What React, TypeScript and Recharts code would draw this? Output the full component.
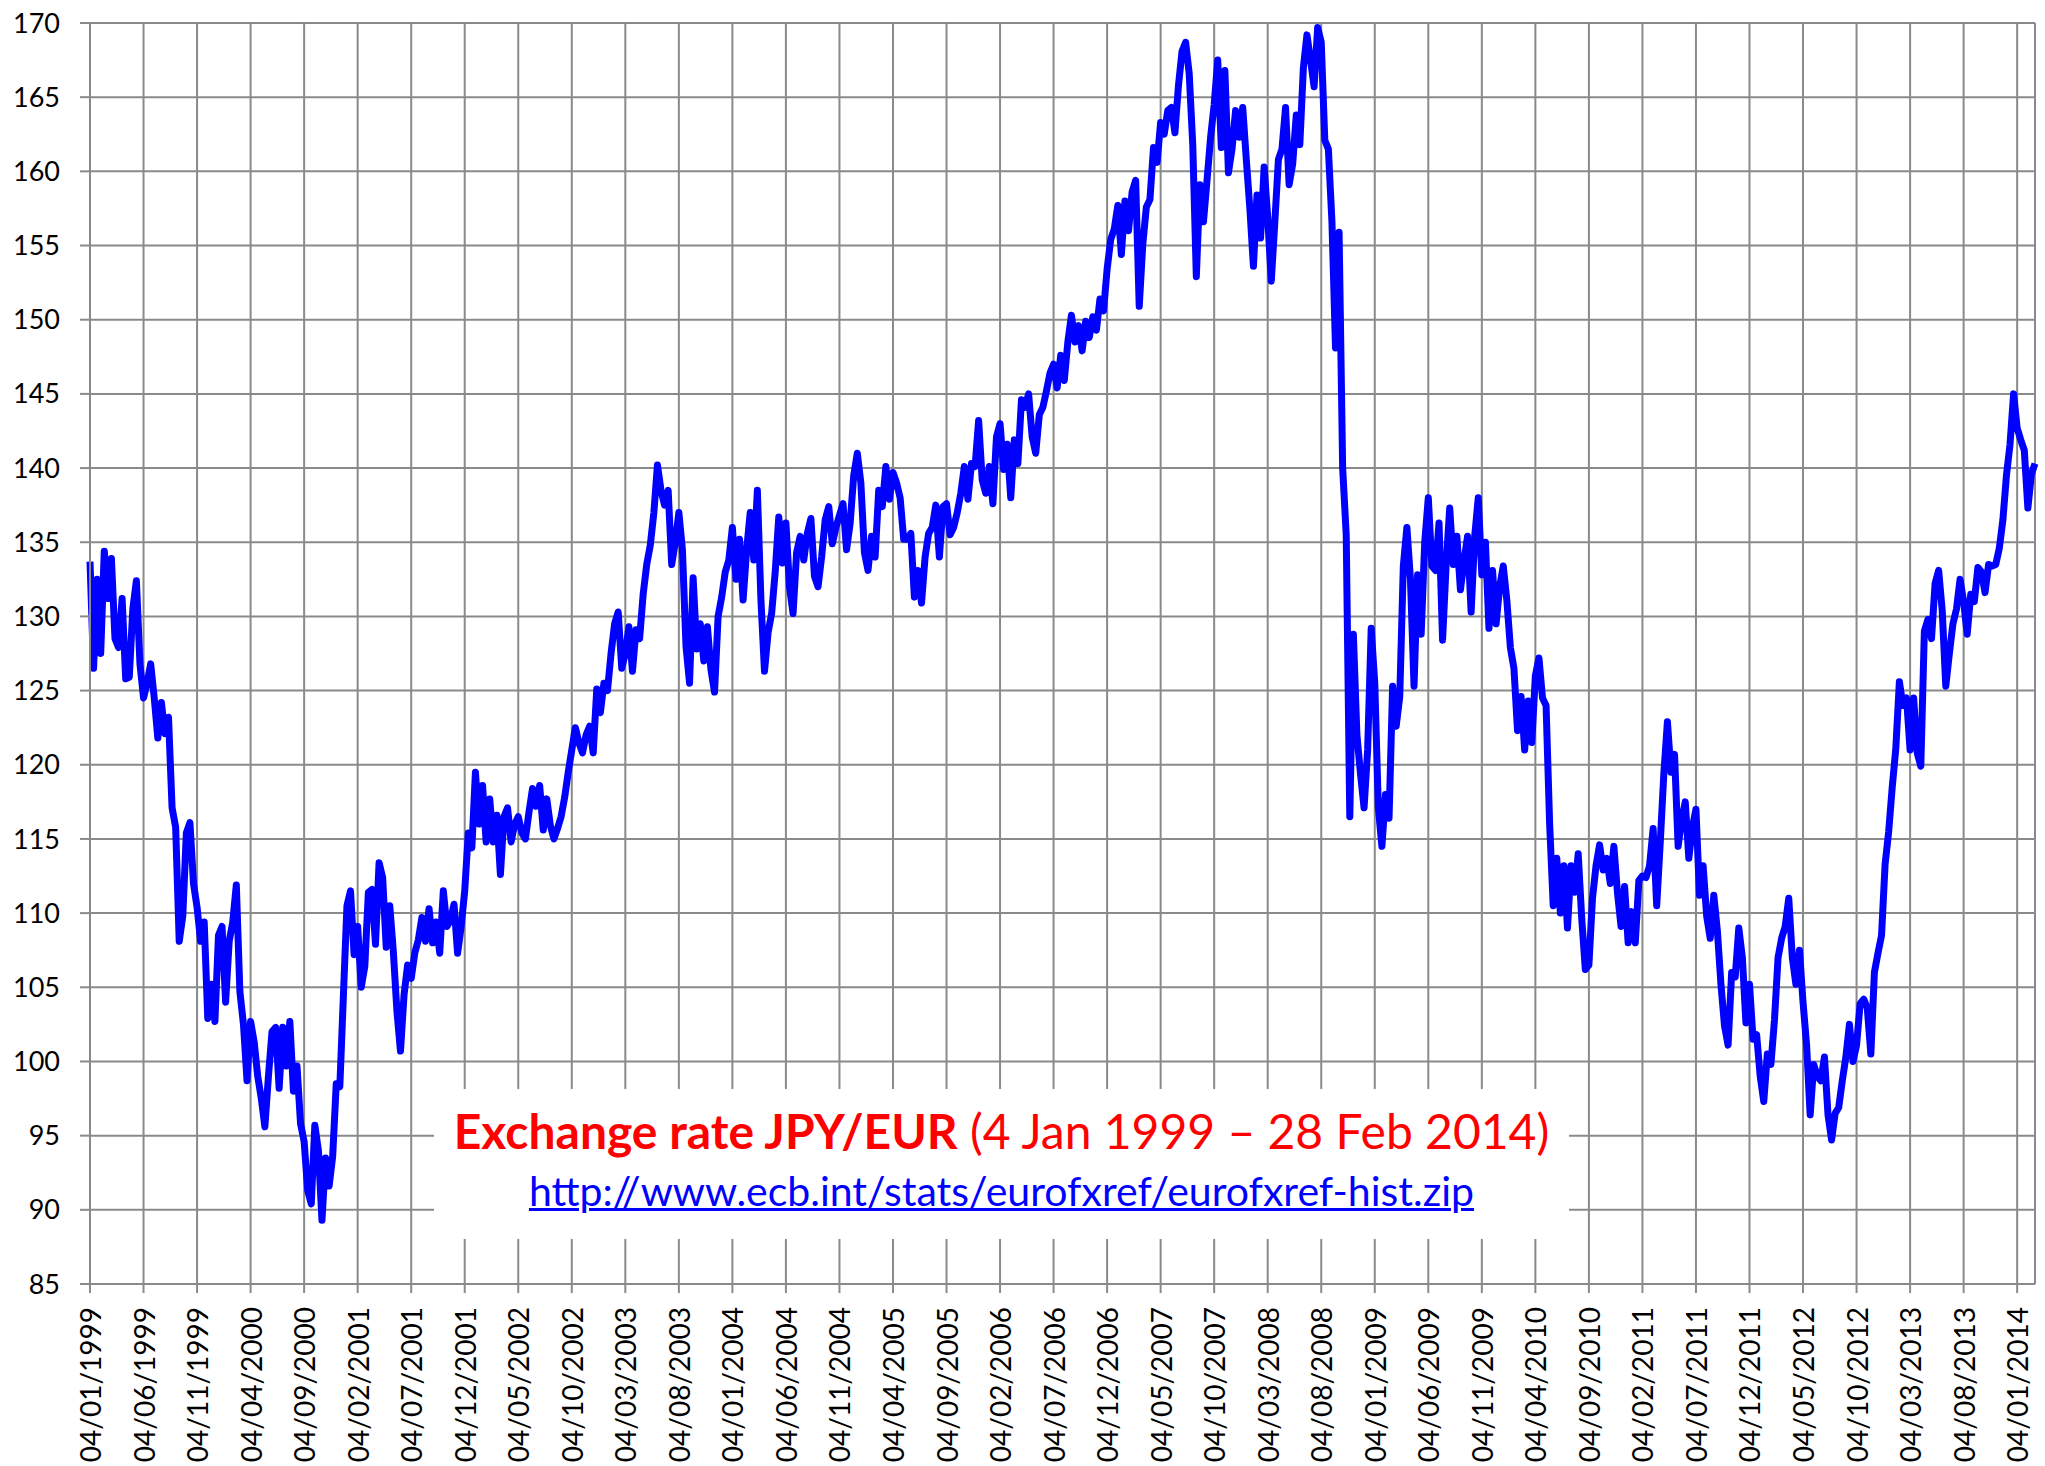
import React from 'react';
import { LineChart, Line, XAxis, YAxis, CartesianGrid, ReferenceLine } from 'recharts';

// JPY per EUR, one value every third of a month
const y1999 = [133.7, 126.5, 132.5, 127.5, 134.4, 131.2, 133.9, 128.5, 127.9, 131.2, 125.8, 125.9, 130.5, 132.4, 126.8, 124.5, 125.5, 126.8, 124.5, 121.8, 124.2, 122.1, 123.2, 117.1, 115.8, 108.1, 109.8, 115.4, 116.1, 112.0, 110.4, 108.1, 109.4, 102.9, 105.2, 102.7];
const y2000 = [108.5, 109.1, 104.0, 108.1, 109.4, 111.9, 104.7, 102.5, 98.7, 102.7, 101.3, 99.0, 97.5, 95.6, 99.0, 102.0, 102.3, 98.2, 102.3, 99.7, 102.7, 98.0, 99.7, 95.8, 94.6, 91.3, 90.4, 95.7, 94.0, 89.3, 93.5, 91.6, 93.6, 98.5, 98.3, 104.4];
const y2001 = [110.5, 111.5, 107.2, 109.1, 105.0, 106.4, 111.4, 111.6, 107.9, 113.4, 112.4, 107.7, 110.5, 107.4, 103.4, 100.7, 104.5, 106.5, 105.6, 107.3, 108.2, 109.7, 108.1, 110.3, 108.0, 109.4, 107.3, 111.5, 109.1, 109.5, 110.6, 107.3, 109.1, 111.5, 115.4, 114.4];
const y2002 = [119.5, 116.0, 118.6, 114.8, 117.7, 114.8, 116.6, 112.6, 116.5, 117.1, 114.8, 116.0, 116.5, 115.4, 115.0, 116.8, 118.4, 117.2, 118.6, 115.6, 117.7, 115.9, 115.0, 115.7, 116.5, 117.8, 119.5, 121.0, 122.5, 121.5, 120.8, 122.0, 122.6, 120.8, 125.1, 123.5];
const y2003 = [125.5, 125.0, 127.5, 129.5, 130.3, 126.5, 127.5, 129.3, 126.3, 129.1, 128.5, 131.5, 133.5, 134.8, 137.0, 140.2, 138.5, 137.5, 138.5, 133.5, 135.0, 137.0, 134.5, 128.0, 125.5, 132.6, 127.8, 129.5, 127.0, 129.3, 126.4, 124.9, 130.0, 131.3, 133.0, 133.8];
const y2004 = [136.0, 132.5, 135.2, 131.1, 134.5, 137.0, 133.8, 138.5, 131.1, 126.3, 128.9, 130.2, 133.0, 136.7, 133.6, 136.3, 132.0, 130.2, 134.3, 135.4, 133.8, 135.6, 136.6, 132.7, 132.0, 134.0, 136.5, 137.4, 134.9, 136.0, 136.8, 137.6, 134.5, 136.3, 139.5, 141.0];
const y2005 = [139.0, 134.3, 133.1, 135.4, 134.0, 138.5, 137.4, 140.1, 137.9, 139.7, 139.0, 138.0, 135.2, 135.2, 135.6, 131.3, 133.1, 130.9, 134.0, 135.6, 136.0, 137.5, 134.0, 137.4, 137.6, 135.5, 136.0, 137.0, 138.3, 140.1, 137.9, 140.3, 140.1, 143.2, 139.2, 138.3];
const y2006 = [140.1, 137.6, 142.1, 143.0, 139.9, 141.6, 138.0, 141.9, 140.3, 144.6, 144.1, 145.0, 142.1, 141.0, 143.6, 144.1, 145.2, 146.4, 147.0, 145.4, 147.6, 145.9, 148.5, 150.3, 148.5, 149.6, 147.9, 149.9, 148.8, 150.2, 149.3, 151.4, 150.6, 153.4, 155.4, 156.1];
const y2007 = [157.7, 154.4, 158.0, 156.0, 158.6, 159.4, 150.9, 155.1, 157.6, 158.1, 161.6, 160.6, 163.3, 162.5, 164.1, 164.3, 162.6, 165.8, 168.1, 168.7, 166.6, 161.8, 152.9, 159.1, 156.6, 159.4, 162.3, 164.5, 167.5, 161.6, 166.8, 159.9, 161.5, 164.1, 162.3, 164.3];
const y2008 = [160.8, 157.5, 153.6, 158.4, 155.5, 160.3, 156.9, 152.6, 156.6, 160.8, 161.5, 164.3, 159.1, 160.5, 163.8, 161.8, 167.0, 169.2, 167.5, 165.7, 169.7, 168.7, 162.1, 161.5, 156.6, 148.1, 155.9, 140.0, 135.5, 116.5, 128.8, 122.0, 119.4, 117.1, 121.0, 129.2];
const y2009 = [125.5, 117.1, 114.5, 118.0, 116.4, 125.3, 122.6, 124.6, 133.4, 136.0, 132.5, 125.3, 132.8, 128.8, 135.0, 138.0, 133.4, 133.1, 136.3, 128.4, 133.5, 137.3, 133.5, 135.4, 131.8, 133.7, 135.4, 130.3, 135.4, 138.0, 132.8, 135.0, 129.2, 133.1, 129.5, 132.0];
const y2010 = [133.4, 131.1, 127.9, 126.5, 122.3, 124.6, 121.0, 124.3, 121.5, 126.0, 127.2, 124.5, 124.0, 116.0, 110.5, 113.7, 110.0, 113.2, 109.0, 113.2, 111.4, 114.0, 109.6, 106.2, 106.5, 111.0, 113.2, 114.6, 112.9, 113.7, 112.0, 114.5, 111.4, 109.1, 111.8, 108.0];
const y2011 = [110.1, 108.0, 112.2, 112.5, 112.4, 113.2, 115.7, 110.5, 114.8, 119.4, 122.9, 119.5, 120.7, 114.5, 116.3, 117.5, 113.7, 115.8, 117.0, 111.2, 113.2, 109.8, 108.3, 111.2, 108.8, 105.2, 102.4, 101.1, 106.0, 105.7, 109.0, 107.0, 102.6, 105.2, 101.5, 101.8];
const y2012 = [99.0, 97.3, 100.5, 99.8, 102.8, 107.0, 108.3, 109.1, 111.0, 107.0, 105.2, 107.5, 104.0, 101.1, 96.4, 99.8, 99.0, 98.7, 100.3, 96.4, 94.7, 96.5, 96.9, 98.7, 100.3, 102.5, 100.0, 101.1, 103.9, 104.2, 103.6, 100.5, 106.0, 107.3, 108.5, 113.3];
const y2013 = [115.5, 118.5, 121.1, 125.6, 124.0, 124.5, 121.0, 124.5, 120.8, 119.9, 129.0, 129.8, 128.5, 132.2, 133.1, 130.4, 125.3, 127.5, 129.5, 130.5, 132.5, 131.0, 128.8, 131.5, 131.0, 133.3, 133.0, 131.6, 133.5, 133.4, 133.5, 134.6, 136.5, 139.5, 141.6, 145.0];
const y2014 = [142.7, 141.9, 141.2, 137.3, 139.6, 140.3];

const tickLabels = [
  '04/01/1999', '04/06/1999', '04/11/1999', '04/04/2000', '04/09/2000', '04/02/2001', '04/07/2001', '04/12/2001',
  '04/05/2002', '04/10/2002', '04/03/2003', '04/08/2003', '04/01/2004', '04/06/2004', '04/11/2004', '04/04/2005',
  '04/09/2005', '04/02/2006', '04/07/2006', '04/12/2006', '04/05/2007', '04/10/2007', '04/03/2008', '04/08/2008',
  '04/01/2009', '04/06/2009', '04/11/2009', '04/04/2010', '04/09/2010', '04/02/2011', '04/07/2011', '04/12/2011',
  '04/05/2012', '04/10/2012', '04/03/2013', '04/08/2013', '04/01/2014',
];
const rateTicks = [85, 90, 95, 100, 105, 110, 115, 120, 125, 130, 135, 140, 145, 150, 155, 160, 165, 170];

const years = [y1999, y2000, y2001, y2002, y2003, y2004, y2005, y2006, y2007, y2008, y2009, y2010, y2011, y2012, y2013, y2014];

// m = months since 4 Jan 1999
const data = years.flatMap((vals, k) => vals.map((rate, j) => ({ m: k * 12 + j / 3, rate })));
const lastMonth = data[data.length - 1].m;
const monthTicks = tickLabels.map((_, i) => i * 5);

const FONT = 'Lato, "Open Sans", sans-serif';
const GRID = '#8a8a8a';

const DateTick = (props: any) => {
  const { x, y, payload } = props;
  const ay = y + 14;
  return (
    <text
      x={x}
      y={ay}
      transform={`rotate(-90 ${x} ${ay})`}
      textAnchor="end"
      dominantBaseline="central"
      fontSize={28}
      fontFamily={FONT}
      fill="#000"
    >
      {tickLabels[monthTicks.indexOf(payload.value)]}
    </text>
  );
};

const App: React.FC = () => {
  return (
    <div style={{ position: 'absolute', left: 0, top: 0, width: 2045, height: 1466, background: '#fff', fontFamily: FONT }}>
      <LineChart width={2045} height={1466} data={data} margin={{ top: 23, right: 10, left: 0, bottom: 0 }}>
        <CartesianGrid stroke={GRID} strokeWidth={2} />
        <XAxis
          dataKey="m"
          type="number"
          domain={[0, lastMonth]}
          ticks={monthTicks}
          interval={0}
          height={182}
          tickSize={9}
          tickMargin={0}
          tick={<DateTick />}
          axisLine={{ stroke: GRID, strokeWidth: 2 }}
          tickLine={{ stroke: GRID, strokeWidth: 2 }}
        />
        <YAxis
          type="number"
          domain={[85, 170]}
          ticks={rateTicks}
          interval={0}
          width={90}
          tickSize={10}
          tickMargin={20}
          tick={{ fontSize: 27, fill: '#000', fontFamily: FONT }}
          axisLine={{ stroke: GRID, strokeWidth: 2 }}
          tickLine={{ stroke: GRID, strokeWidth: 2 }}
        />
        <ReferenceLine x={lastMonth} stroke={GRID} strokeWidth={2} />
        <Line
          type="linear"
          dataKey="rate"
          stroke="#0000FF"
          strokeWidth={7}
          strokeLinejoin="round"
          dot={false}
          isAnimationActive={false}
        />
      </LineChart>

      <div style={{ position: 'absolute', left: 434, top: 1089, width: 1135, height: 150, background: '#fff' }}>
        <div
          style={{
            position: 'absolute', left: 0, right: 0, top: 14, textAlign: 'center',
            fontSize: 48, lineHeight: '56px', color: '#FF0000', whiteSpace: 'nowrap',
          }}
        >
          <b>Exchange rate JPY/EUR</b> (4 Jan 1999 – 28 Feb 2014)
        </div>
        <div
          style={{
            position: 'absolute', left: 0, right: 0, top: 77, textAlign: 'center',
            fontSize: 41, lineHeight: '49px', color: '#0000FF', whiteSpace: 'nowrap',
            textDecoration: 'underline', textDecorationThickness: 3,
          }}
        >
          http://www.ecb.int/stats/eurofxref/eurofxref-hist.zip
        </div>
      </div>
    </div>
  );
};

export default App;
